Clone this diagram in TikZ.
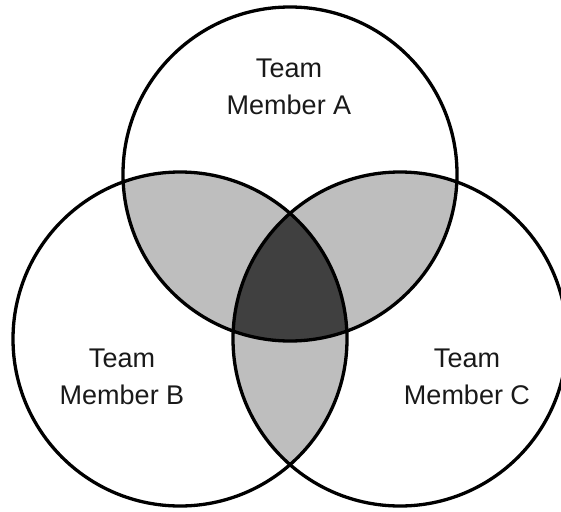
\documentclass[tikz,border=0pt]{standalone}
\usepackage{fontspec}
\setmainfont{Liberation Sans}
\begin{document}
\begin{tikzpicture}[x=1pt,y=-1pt,
  ring/.style={draw=black,line width=3.3pt},
  lightfill/.style={fill=lightgray},
  darkfill/.style={fill=darkgray},
  label/.style={align=center,inner sep=0pt,text=black!90,font=\fontsize{27}{37}\selectfont}]
\definecolor{lightgray}{HTML}{BEBEBE}
\definecolor{darkgray}{HTML}{404040}
\useasboundingbox (0,0) rectangle (561,511);
\def\R{167}
\coordinate (A) at (290,174);
\coordinate (B) at (180,339);
\coordinate (C) at (400,339);
% pairwise intersections
\begin{scope}
  \clip (A) circle (\R);
  \fill[lightfill] (B) circle (\R);
  \fill[lightfill] (C) circle (\R);
\end{scope}
\begin{scope}
  \clip (B) circle (\R);
  \fill[lightfill] (C) circle (\R);
\end{scope}
% triple intersection
\begin{scope}
  \clip (A) circle (\R);
  \clip (B) circle (\R);
  \fill[darkfill] (C) circle (\R);
\end{scope}
\draw[ring] (A) circle (\R);
\draw[ring] (B) circle (\R);
\draw[ring] (C) circle (\R);
\node[label] (la) at (289,87) {Team\\Member A};
\node[label] (lb) at (122,377) {Team\\Member B};
\node[label] (lc) at (467,377) {Team\\Member C};
\end{tikzpicture}
\end{document}
